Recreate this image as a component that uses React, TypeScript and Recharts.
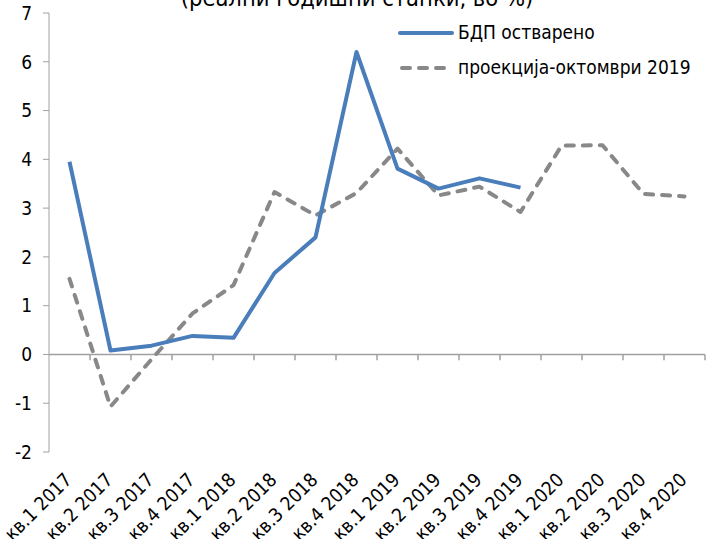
import React from 'react';
import { LineChart, Line, XAxis, YAxis, ReferenceLine, Legend } from 'recharts';

// Quarterly real GDP growth, %, actual vs. October 2019 projection
const quarters = [
  'кв.1 2017', 'кв.2 2017', 'кв.3 2017', 'кв.4 2017',
  'кв.1 2018', 'кв.2 2018', 'кв.3 2018', 'кв.4 2018',
  'кв.1 2019', 'кв.2 2019', 'кв.3 2019', 'кв.4 2019',
  'кв.1 2020', 'кв.2 2020', 'кв.3 2020', 'кв.4 2020',
];
const actualGdp: (number | null)[] = [
  3.95, 0.08, 0.18, 0.38, 0.34, 1.67, 2.4, 6.2, 3.81, 3.4, 3.61, 3.42, null, null, null, null,
];
const projectionOct2019 = [
  1.55, -1.07, -0.1, 0.84, 1.42, 3.33, 2.85, 3.31, 4.22, 3.26, 3.44, 2.92, 4.28, 4.29, 3.29, 3.24,
];
const yTicks = [-2, -1, 0, 1, 2, 3, 4, 5, 6, 7];
const actualName = 'БДП остварено';
const projectionName = 'проекција-октомври 2019';
const chartTitle = '(реални годишни стапки, во %)';

const BLUE = '#4a7ebb';
const GREY = '#888888';
const AXIS = '#a0a0a0';
const FONT = '"DejaVu Sans Condensed", "DejaVu Sans", Verdana, sans-serif';
const FS = 19;

// each quarter sits in the middle of a unit-wide slot on a numeric x scale
const data = quarters.map((q, i) => ({
  pos: i + 0.5,
  label: q,
  actual: actualGdp[i],
  projection: projectionOct2019[i],
}));
const labelTicks = quarters.map((_, i) => i + 0.5);
const slotEdges = quarters.map((_, i) => i + 1);

const QuarterTick = (props: any) => {
  const { x, y, payload } = props;
  const label = quarters[Math.floor(payload.value)];
  const ax = x + 3.5;
  const ay = y + 29;
  return (
    <text
      x={ax}
      y={ay}
      textAnchor="end"
      fontSize={FS}
      fontFamily={FONT}
      style={{ fontStretch: 'condensed' }}
      fill="#000"
      transform={`rotate(-45, ${ax}, ${ay})`}
    >
      {label}
    </text>
  );
};

const LegendBox = () => (
  <div style={{ fontFamily: FONT, fontStretch: 'condensed', fontSize: FS, color: '#000', lineHeight: 1 }}>
    <div style={{ display: 'flex', alignItems: 'center', height: 35 }}>
      <svg width={56} height={10} style={{ display: 'block' }}>
        <line x1={2} y1={5} x2={54} y2={5} stroke={BLUE} strokeWidth={4} strokeLinecap="round" />
      </svg>
      <span style={{ marginLeft: 4 }}>{actualName}</span>
    </div>
    <div style={{ display: 'flex', alignItems: 'center', height: 35 }}>
      <svg width={56} height={10} style={{ display: 'block' }}>
        <line
          x1={4}
          y1={5}
          x2={54}
          y2={5}
          stroke={GREY}
          strokeWidth={4}
          strokeLinecap="round"
          strokeDasharray="8 9"
        />
      </svg>
      <span style={{ marginLeft: 4 }}>{projectionName}</span>
    </div>
  </div>
);

export default function App() {
  return (
    <div style={{ position: 'absolute', left: 0, top: 0, width: 706, height: 539, background: '#fff', overflow: 'hidden' }}>
      <svg width={706} height={30} style={{ position: 'absolute', left: 0, top: 0 }}>
        <text
          x={357}
          y={6}
          textAnchor="middle"
          fontFamily={FONT}
          style={{ fontStretch: 'condensed' }}
          fontSize={23.5}
          fill="#000"
        >
          {chartTitle}
        </text>
      </svg>
      <LineChart width={706} height={539} data={data} margin={{ top: 13, right: 1, bottom: 0, left: 0 }}>
        <XAxis
          dataKey="pos"
          type="number"
          domain={[0, 16]}
          ticks={labelTicks}
          interval={0}
          axisLine={false}
          tickLine={false}
          tickSize={0}
          tickMargin={0}
          height={87}
          tick={<QuarterTick />}
        />
        <YAxis
          type="number"
          domain={[-2, 7]}
          ticks={yTicks}
          interval={0}
          width={49}
          stroke={AXIS}
          tickSize={6}
          tickMargin={11}
          tick={{ fill: '#000', fontSize: FS, fontFamily: FONT, style: { fontStretch: 'condensed' } }}
        />
        <ReferenceLine y={0} stroke={AXIS} strokeWidth={1.5} />
        {slotEdges.map((k) => (
          <ReferenceLine
            key={k}
            segment={[
              { x: k, y: 0 },
              { x: k, y: -0.12 },
            ]}
            stroke={AXIS}
            strokeWidth={1.5}
          />
        ))}
        <Legend
          layout="horizontal"
          verticalAlign="middle"
          content={<LegendBox />}
          wrapperStyle={{ position: 'absolute', left: 398, top: 15, width: 300 }}
        />
        <Line
          dataKey="projection"
          name={projectionName}
          stroke={GREY}
          strokeWidth={4}
          strokeDasharray="8 9"
          strokeLinecap="round"
          strokeLinejoin="round"
          dot={false}
          isAnimationActive={false}
        />
        <Line
          dataKey="actual"
          name={actualName}
          stroke={BLUE}
          strokeWidth={4}
          strokeLinejoin="round"
          dot={false}
          connectNulls={false}
          isAnimationActive={false}
        />
      </LineChart>
    </div>
  );
}
